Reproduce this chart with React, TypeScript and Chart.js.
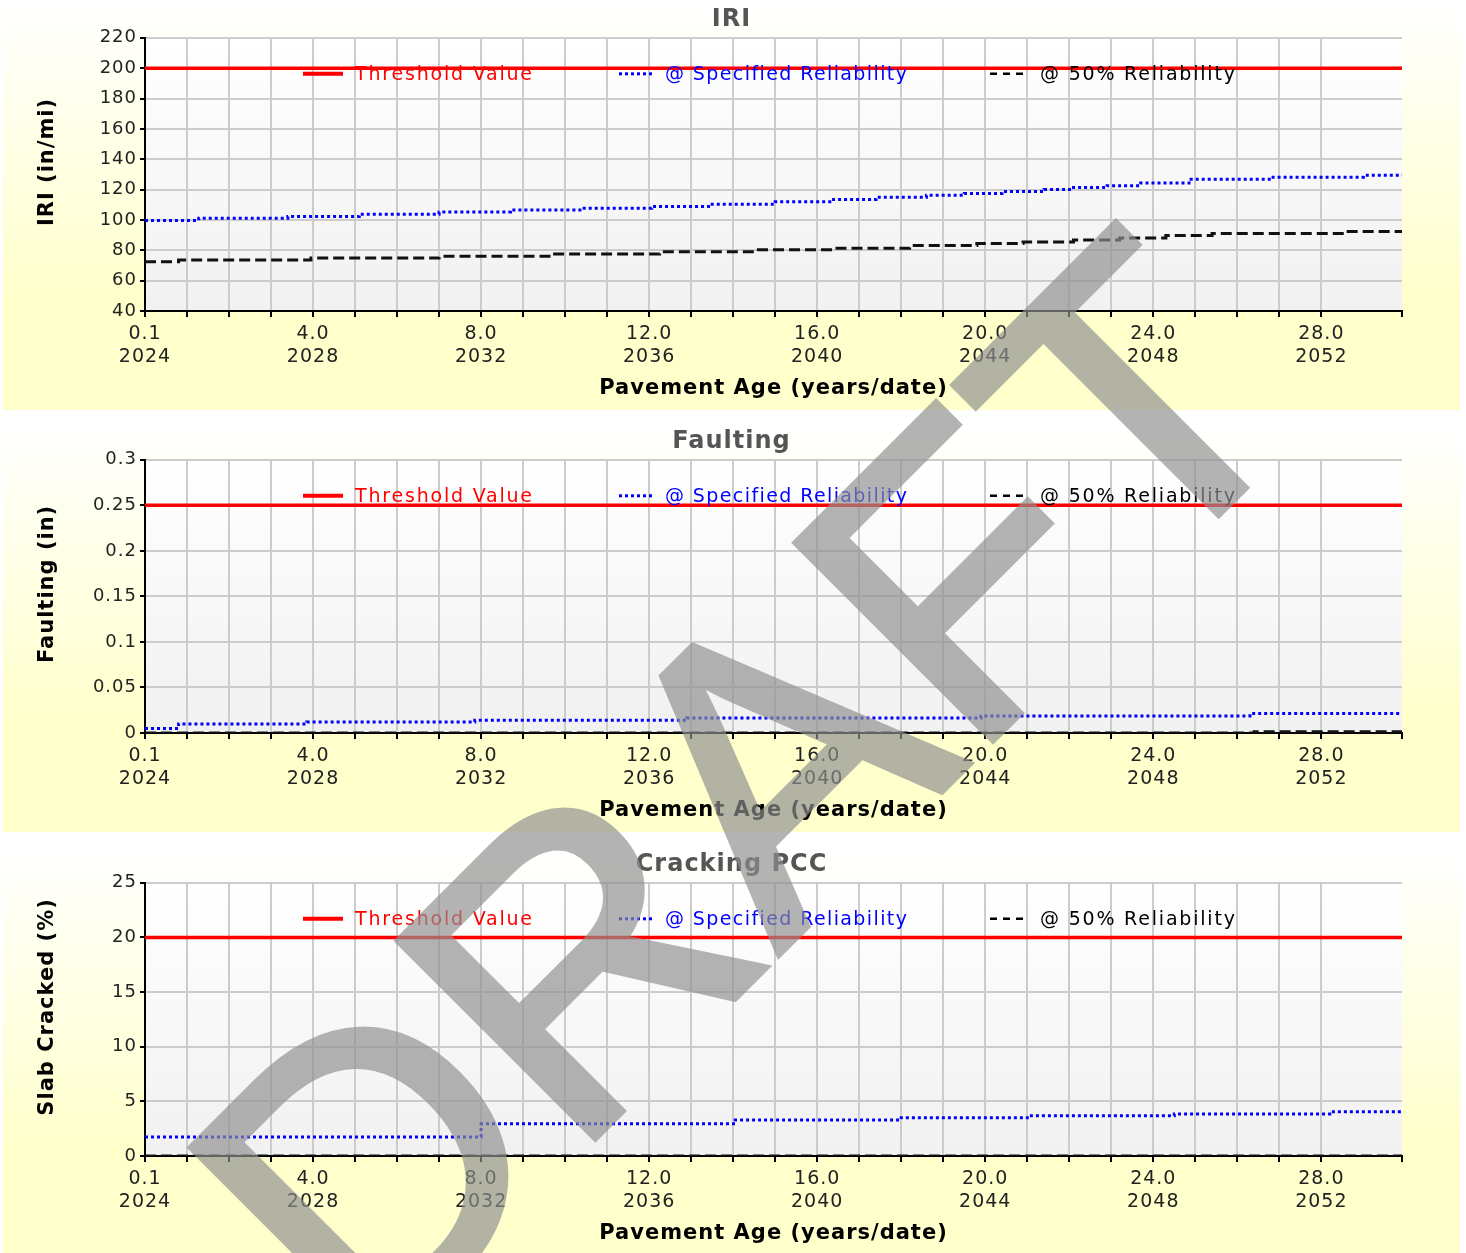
import React, { useEffect, useRef } from 'react';
import { Chart, registerables } from 'chart.js';

Chart.register(...registerables);

// ---------- shared axis data ----------
const X_MAX = 29.92;
const labelAges = [0, 4, 8, 12, 16, 20, 24, 28];
const ageLabels = ['0.1', '4.0', '8.0', '12.0', '16.0', '20.0', '24.0', '28.0'];
const yearLabels = ['2024', '2028', '2032', '2036', '2040', '2044', '2048', '2052'];
const legendNames = ['Threshold Value', '@ Specified Reliability', '@ 50% Reliability'];
const xTitle = 'Pavement Age (years/date)';

// ---------- IRI ----------
const iriThresholdAges = [0, 29.92];
const iriThresholdValues = [200, 200];
const iriSpecAges = [0, 1.28, 3.4, 5.1, 7.0, 8.7, 10.4, 12.06, 13.5, 15.0, 16.3, 17.4, 18.6, 19.5, 20.4, 21.4, 22.1, 22.9, 23.7, 24.9, 26.8, 29.0, 29.92];
const iriSpecValues = [99.6, 101.1, 102.2, 103.7, 105.3, 106.6, 107.7, 108.8, 110.3, 112.0, 113.4, 114.9, 116.3, 117.4, 118.7, 120.0, 121.3, 122.6, 124.3, 126.8, 128.2, 129.4, 129.4];
const iri50Ages = [0, 0.8, 3.95, 7.0, 9.7, 12.25, 14.6, 16.4, 18.2, 19.8, 20.9, 22.1, 23.2, 24.3, 25.4, 28.6, 29.92];
const iri50Values = [72.4, 73.6, 74.9, 76.0, 77.6, 79.1, 80.3, 81.3, 83.1, 84.4, 85.5, 86.8, 88.1, 89.7, 91.0, 92.4, 92.4];

// ---------- Faulting ----------
const faultThresholdAges = [0, 29.92];
const faultThresholdValues = [0.25, 0.25];
const faultSpecAges = [0, 0.8, 3.85, 7.85, 12.9, 19.9, 26.3, 29.92];
const faultSpecValues = [0.005, 0.01, 0.012, 0.014, 0.0166, 0.0188, 0.0213, 0.0213];
const fault50Ages = [0, 26.4, 29.92];
const fault50Values = [0, 0.0015, 0.0015];

// ---------- Cracking ----------
const crackThresholdAges = [0, 29.92];
const crackThresholdValues = [20, 20];
const crackSpecAges = [0, 8.0, 14.05, 18.0, 21.0, 24.5, 28.2, 29.92];
const crackSpecValues = [1.75, 2.94, 3.3, 3.5, 3.68, 3.85, 4.05, 4.05];
const crack50Ages = [0, 29.92];
const crack50Values = [0, 0];

const FONT = "'DejaVu Sans', Verdana, sans-serif";

const pts = (ages: number[], values: number[]) => ages.map((a, i) => ({ x: a, y: values[i] }));

const spacingPlugin = {
  id: 'spacing',
  beforeUpdate(c: any) { c.ctx.letterSpacing = '1px'; },
  beforeLayout(c: any) { c.ctx.letterSpacing = '1px'; },
  beforeDraw(c: any) { c.ctx.letterSpacing = '1px'; },
};

const bgPlugin = {
  id: 'plotbg',
  beforeDraw(c: any) {
    const { ctx, chartArea: a } = c;
    ctx.save();
    const g = ctx.createLinearGradient(0, a.top, 0, a.bottom);
    g.addColorStop(0, '#ffffff');
    g.addColorStop(1, '#f1f1f1');
    ctx.fillStyle = g;
    ctx.fillRect(a.left, a.top, a.right - a.left, a.bottom - a.top);
    ctx.restore();
  },
};

const legendItems = [
  { lineStart: 158, lineLen: 40, textStart: 210, color: '#ff0000', width: 4, dash: [] as number[], spacing: 1.8 },
  { lineStart: 474, lineLen: 36, textStart: 520, color: '#0000ff', width: 3, dash: [3, 3], spacing: 1.4 },
  { lineStart: 845, lineLen: 38, textStart: 895, color: '#000000', width: 2.5, dash: [7, 6], spacing: 1.8 },
];

const legendPlugin = {
  id: 'inlegend',
  afterDatasetsDraw(c: any) {
    const { ctx, chartArea: a } = c;
    const y = a.top + 36;
    ctx.save();
    ctx.font = `19px ${FONT}`;
    ctx.textBaseline = 'middle';
    ctx.textAlign = 'left';
    legendItems.forEach((it, i) => {
      ctx.beginPath();
      ctx.setLineDash(it.dash);
      ctx.lineWidth = it.width;
      ctx.strokeStyle = it.color;
      ctx.moveTo(a.left + it.lineStart, y);
      ctx.lineTo(a.left + it.lineStart + it.lineLen, y);
      ctx.stroke();
      ctx.letterSpacing = `${it.spacing}px`;
      ctx.fillStyle = it.color;
      ctx.fillText(legendNames[i], a.left + it.textStart, y + 1);
    });
    ctx.restore();
  },
};

type Props = {
  title: string;
  yTitle: string;
  yMin: number;
  yMax: number;
  yStep: number;
  thr: [number[], number[]];
  spec: [number[], number[]];
  p50: [number[], number[]];
};

function PanelChart({ title, yTitle, yMin, yMax, yStep, thr, spec, p50 }: Props) {
  const ref = useRef<HTMLCanvasElement>(null);
  useEffect(() => {
    const canvas = ref.current!;
    const chart = new Chart(canvas, {
      type: 'line',
      data: {
        datasets: [
          { label: legendNames[0], data: pts(thr[0], thr[1]), borderColor: '#ff0000', borderWidth: 3.5, pointRadius: 0, stepped: 'before' },
          { label: legendNames[1], data: pts(spec[0], spec[1]), borderColor: '#0000ff', borderWidth: 3, borderDash: [3, 3], pointRadius: 0, stepped: 'before' },
          { label: legendNames[2], data: pts(p50[0], p50[1]), borderColor: '#111111', borderWidth: 3, borderDash: [11, 5], pointRadius: 0, stepped: 'before' },
        ],
      } as any,
      options: {
        responsive: false,
        animation: false,
        layout: { padding: { left: 0, right: 0, top: 0, bottom: 0 } },
        plugins: {
          legend: { display: false },
          tooltip: { enabled: false },
          title: {
            display: true,
            text: title,
            color: '#555555',
            font: { family: FONT, size: 24, weight: 'bold' },
            padding: { top: 5, bottom: 4 },
          },
        },
        scales: {
          x: {
            type: 'linear',
            min: 0,
            max: X_MAX,
            afterFit: (s: any) => { s.height = 99; },
            ticks: {
              stepSize: 1,
              autoSkip: false,
              maxRotation: 0,
              padding: 6,
              color: '#222222',
              font: { family: FONT, size: 19 },
              callback: (v: any) => {
                const n = Number(v);
                const idx = labelAges.findIndex((a) => Math.abs(a - n) < 1e-6);
                return idx >= 0 ? [ageLabels[idx], yearLabels[idx]] : '';
              },
            },
            grid: {
              color: (c: any) => (c.tick && c.tick.value > X_MAX - 0.5 ? 'rgba(0,0,0,0)' : '#cccccc'),
              lineWidth: 2,
              tickColor: '#000000',
              tickLength: 6,
              tickWidth: 2,
            },
            border: { color: '#000000', width: 2 },
            title: {
              display: true,
              text: xTitle,
              color: '#000000',
              font: { family: FONT, size: 21, weight: 'bold' },
              padding: { top: 0, bottom: 9 },
            },
          },
          y: {
            type: 'linear',
            min: yMin,
            max: yMax,
            afterFit: (s: any) => { s.width = 142; },
            ticks: {
              stepSize: yStep,
              padding: 3,
              color: '#222222',
              font: { family: FONT, size: 18 },
              callback: (v: any) => String(Number(Number(v).toFixed(3))),
            },
            grid: {
              color: '#cccccc',
              lineWidth: 2,
              tickColor: '#000000',
              tickLength: 5,
              tickWidth: 2,
            },
            border: { color: '#000000', width: 2 },
            title: {
              display: true,
              text: '   ' + yTitle,
              color: '#000000',
              font: { family: FONT, size: 21, weight: 'bold' },
              padding: { top: 32, bottom: 0 },
            },
          },
          yRight: {
            type: 'linear',
            position: 'right',
            display: true,
            afterFit: (s: any) => { s.width = 58; },
            grid: { display: false },
            border: { display: false },
            ticks: { display: false },
          },
        },
      } as any,
      plugins: [spacingPlugin, bgPlugin, legendPlugin],
    });
    return () => chart.destroy();
  }, []);
  return <canvas ref={ref} width={1457} height={410} style={{ display: 'block' }} />;
}

const panelTops = [0, 422, 845];

export default function App() {
  const panels: Props[] = [
    { title: 'IRI', yTitle: 'IRI (in/mi)', yMin: 40, yMax: 220, yStep: 20, thr: [iriThresholdAges, iriThresholdValues], spec: [iriSpecAges, iriSpecValues], p50: [iri50Ages, iri50Values] },
    { title: 'Faulting', yTitle: 'Faulting (in)', yMin: 0, yMax: 0.3, yStep: 0.05, thr: [faultThresholdAges, faultThresholdValues], spec: [faultSpecAges, faultSpecValues], p50: [fault50Ages, fault50Values] },
    { title: 'Cracking PCC', yTitle: 'Slab Cracked (%)', yMin: 0, yMax: 25, yStep: 5, thr: [crackThresholdAges, crackThresholdValues], spec: [crackSpecAges, crackSpecValues], p50: [crack50Ages, crack50Values] },
  ];
  return (
    <div style={{ position: 'absolute', left: 0, top: 0, width: 1466, height: 1253, overflow: 'hidden', background: '#ffffff' }}>
      {panels.map((p, i) => (
        <div
          key={p.title}
          style={{
            position: 'absolute',
            left: 3,
            top: panelTops[i],
            width: 1457,
            height: 410,
            background: 'linear-gradient(to bottom, #ffffff 0%, #ffffcc 72%, #ffffcc 100%)',
          }}
        >
          <PanelChart {...p} />
        </div>
      ))}
      <svg width={1466} height={1253} style={{ position: 'absolute', left: 0, top: 0, pointerEvents: 'none' }}>
        <g opacity={0.68}>
          <text
            x={365}
            y={1368}
            transform="rotate(-45 365 1368)"
            fontFamily="'Liberation Sans', Arial, sans-serif"
            fontSize={405}
            fill="#909090"
            stroke="#909090"
            strokeWidth={7}
            strokeLinejoin="miter"
          >
            DRAFT
          </text>
        </g>
      </svg>
    </div>
  );
}
